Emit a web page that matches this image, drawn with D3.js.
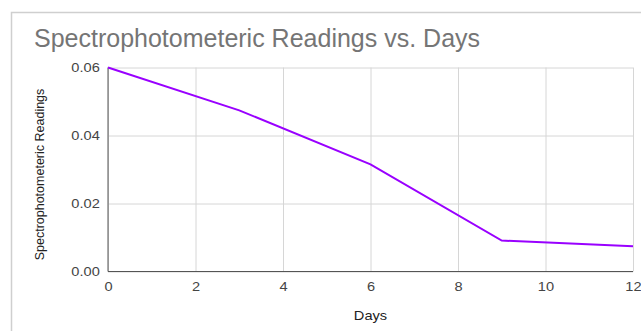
<!DOCTYPE html>
<html>
<head>
<meta charset="utf-8">
<script src="https://cdn.jsdelivr.net/npm/d3@7"></script>
<style>
  html, body { margin: 0; padding: 0; background: #fff; }
  svg { display: block; font-family: "Liberation Sans", Arial, sans-serif; }
</style>
</head>
<body>
<svg id="chart" width="641" height="331"></svg>
<script>
const days = [0, 3, 6, 9, 12];
const readings = [0.06, 0.0474, 0.0315, 0.0091, 0.0074];
const xTicks = [0, 2, 4, 6, 8, 10, 12];
const yTicks = [0, 0.02, 0.04, 0.06];
const titleText = "Spectrophotometeric Readings vs. Days";
const xTitle = "Days";
const yTitle = "Spectrophotometeric Readings";

const svg = d3.select("#chart");
const m = { left: 108, right: 633, top: 67.5, bottom: 271.5 };
const SX = 1.17;

// frame
svg.append("rect").attr("x", 11.5).attr("y", 12.5).attr("width", 700).attr("height", 400)
  .attr("fill", "none").attr("stroke", "#cfcfcf").attr("stroke-width", 1.5);

svg.append("text").attr("x", 34).attr("y", 47).attr("font-size", 25).attr("fill", "#757575")
  .text(titleText);

const x = d3.scaleLinear().domain([0, 12]).range([m.left, m.right]);
const y = d3.scaleLinear().domain([0, 0.06]).range([m.bottom, m.top]);

// gridlines
const gx = svg.append("g").attr("transform", `translate(0,${m.bottom})`)
  .call(d3.axisBottom(x).tickValues(xTicks).tickSize(-(m.bottom - m.top)).tickFormat(""));
gx.select(".domain").remove();
gx.selectAll("line").attr("stroke", "#d6d6d6");

const gy = svg.append("g").attr("transform", `translate(${m.left},0)`)
  .call(d3.axisLeft(y).tickValues(yTicks).tickSize(-(m.right - m.left)).tickFormat(""));
gy.select(".domain").remove();
gy.selectAll("line").attr("stroke", "#d6d6d6");

// axis lines
svg.append("line").attr("x1", m.left).attr("x2", m.left).attr("y1", m.top).attr("y2", m.bottom)
  .attr("stroke", "#555").attr("stroke-width", 1);
svg.append("line").attr("x1", m.left).attr("x2", m.right).attr("y1", m.bottom).attr("y2", m.bottom)
  .attr("stroke", "#555").attr("stroke-width", 1);

// tick labels
const xl = svg.append("g").attr("transform", `translate(0,${m.bottom})`)
  .call(d3.axisBottom(x).tickValues(xTicks).tickSize(0).tickPadding(11).tickFormat(d3.format("d")));
xl.select(".domain").remove();
xl.selectAll("text").attr("font-size", 12.5).attr("fill", "#444")
  .attr("font-family", "Liberation Sans, Arial, sans-serif").attr("transform", `scale(${SX},1)`);

const yl = svg.append("g").attr("transform", `translate(${m.left},0)`)
  .call(d3.axisLeft(y).tickValues(yTicks).tickSize(0).tickPadding(7).tickFormat(d3.format(".2f")));
yl.select(".domain").remove();
yl.selectAll("text").attr("font-size", 12.5).attr("fill", "#444")
  .attr("font-family", "Liberation Sans, Arial, sans-serif").attr("transform", `scale(${SX},1)`);

// axis titles
svg.append("text").attr("transform", `translate(${(m.left + m.right) / 2},320) scale(${SX},1)`)
  .attr("text-anchor", "middle").attr("font-size", 12.5).attr("fill", "#222").text(xTitle);
svg.append("text").attr("transform", `translate(44,${(m.top + m.bottom) / 2 + 5}) rotate(-90)`)
  .attr("text-anchor", "middle").attr("font-size", 12.5).attr("fill", "#222").text(yTitle);

// line
const pts = days.map((d, i) => [d, readings[i]]);
svg.append("path").datum(pts)
  .attr("d", d3.line().x(d => x(d[0])).y(d => y(d[1])))
  .attr("fill", "none").attr("stroke", "#9900ff").attr("stroke-width", 2);
</script>
</body>
</html>
